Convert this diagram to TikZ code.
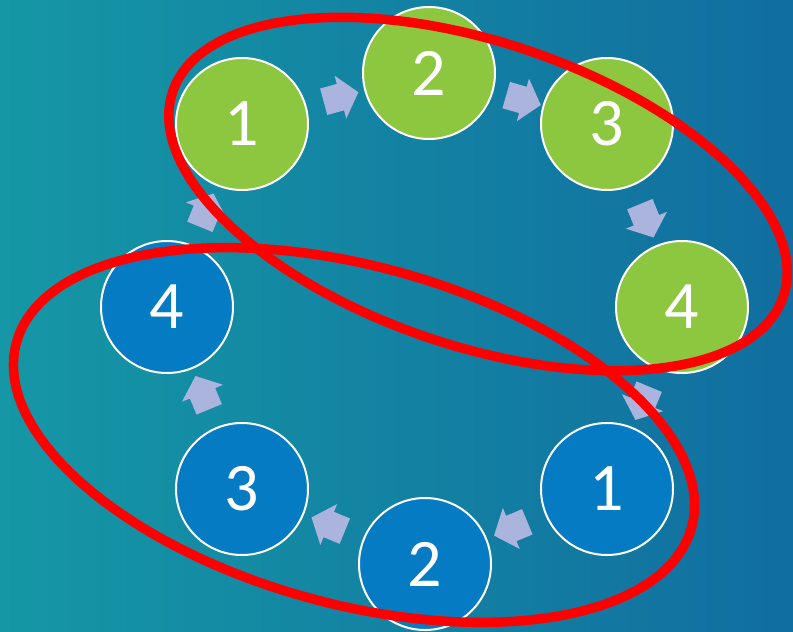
\documentclass[tikz,border=0pt]{standalone}
\usepackage{fontspec}
\usepackage{tikz}
\usepackage{xcolor}
\setmainfont{Carlito}
\usetikzlibrary{backgrounds,positioning,shapes,shapes.arrows}
\definecolor{bgteal}{RGB}{21,151,165}
\definecolor{bgblue}{RGB}{17,110,160}
\definecolor{leafgreen}{RGB}{141,198,63}
\definecolor{seablue}{RGB}{4,123,194}
\definecolor{lavender}{RGB}{170,180,220}
\definecolor{ringred}{RGB}{255,0,0}

\begin{document}
\begin{tikzpicture}[x=1pt,y=-1pt]
    \tikzstyle{gnode}=[circle,draw=white,line width=2pt,fill=leafgreen,%
    minimum size=132pt,inner sep=0pt,text=white,font=\fontsize{68}{70}\selectfont] %
    \tikzstyle{bnode}=[gnode,fill=seablue] %
    \tikzstyle{flow}=[single arrow,fill=lavender,draw=none,midway,sloped,%
    allow upside down,inner xsep=0pt,inner ysep=13.5pt,minimum width=0pt,%
    minimum height=36pt,single arrow head extend=8.5pt,%
    single arrow tip angle=100] %
    \tikzstyle{ring}=[draw=ringred,line width=9.5pt] %

    \useasboundingbox (0,0) rectangle (793,632);

    %% first round
    \node[gnode] (G1) at (242, 124) {1};
    \node[gnode] (G2) at (429, 73) {2};
    \node[gnode] (G3) at (607, 124) {3};
    \node[gnode] (G4) at (682, 307) {4};

    %% second round
    \node[bnode] (B1) at (607, 489) {1};
    \node[bnode] (B2) at (425, 564) {2};
    \node[bnode] (B3) at (242, 489) {3};
    \node[bnode] (B4) at (167, 307) {4};

    \begin{scope}[on background layer]
      \shade[left color=bgteal,right color=bgblue] (0,0) rectangle (793,632);
      \foreach \a/\b in {G1/G2, G2/G3, G3/G4, G4/B1, B1/B2, B2/B3, B3/B4, B4/G1}
      {
        \path (\a) -- node [flow] {} (\b);
      }
    \end{scope}

    %% rounds marked
    \draw[ring] (478, 194) ellipse [x radius=322pt, y radius=152pt, rotate=-18.5];
    \draw[ring] (354, 435) ellipse [x radius=350pt, y radius=169pt, rotate=-15.3];
\end{tikzpicture}
\end{document}
